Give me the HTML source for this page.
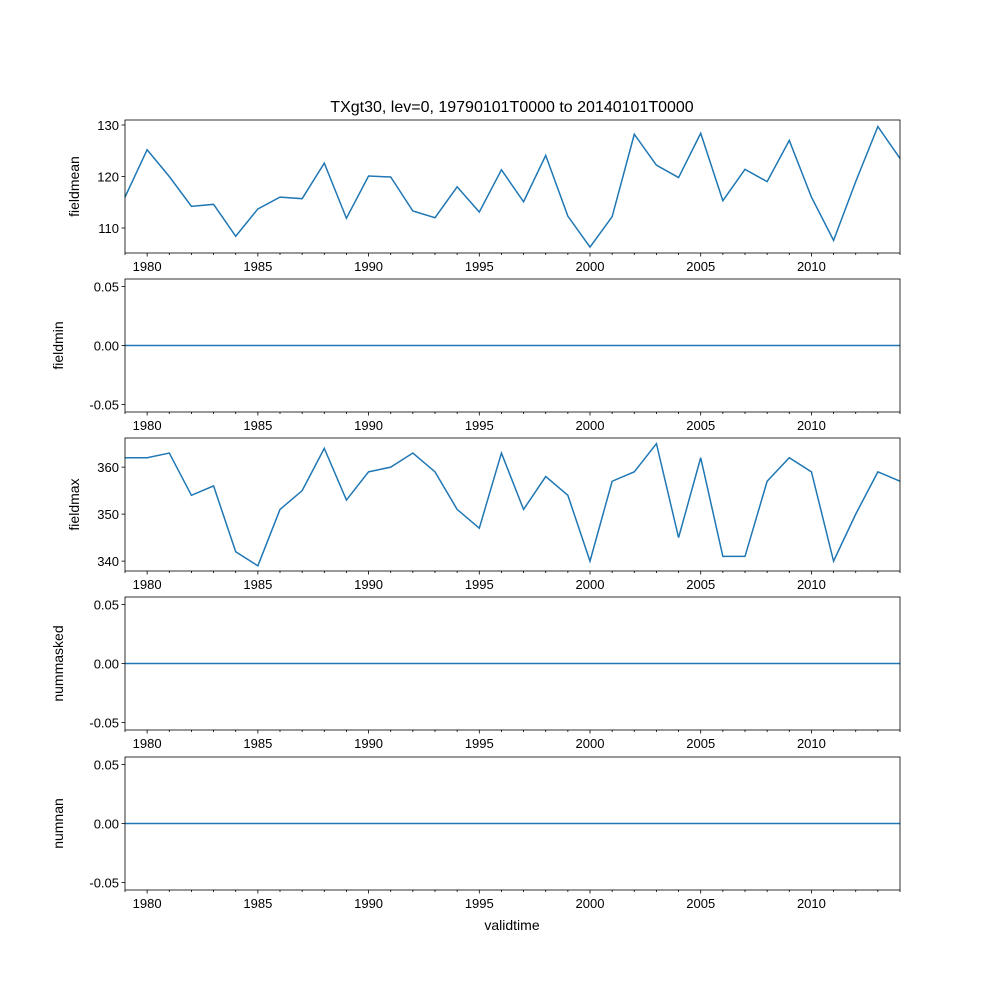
<!DOCTYPE html>
<html><head><meta charset="utf-8"><style>
body{margin:0;background:#fff}
svg{font-family:"Liberation Sans","DejaVu Sans",sans-serif}
</style></head><body>
<svg id="chart" width="1000" height="1000" viewBox="0 0 1000 1000">
<rect width="1000" height="1000" fill="#fff"/>
<text x="512" y="112" font-size="16" text-anchor="middle">TXgt30, lev=0, 19790101T0000 to 20140101T0000</text>
<text x="512" y="930" font-size="14" text-anchor="middle">validtime</text>
</svg>
<script>
const years = [];
for (let y = 1979; y <= 2014; y++) years.push(y);
const fieldmean = [116,125.2,120,114.2,114.6,108.4,113.7,116,115.7,122.6,111.9,120.1,119.9,113.3,112,118,113.1,121.3,115.1,124.1,112.3,106.3,112.2,128.2,122.2,119.8,128.4,115.3,121.4,119,127,116,107.6,119,129.7,123.5];
const fieldmax = [362,362,363,354,356,342,339,351,355,364,353,359,360,363,359,351,347,363,351,358,354,340,357,359,365,345,362,341,341,357,362,359,340,350,359,357];
const zeros = years.map(() => 0);
const xTickLabels = [1980,1985,1990,1995,2000,2005,2010];
const panels = [
  {name:'fieldmean', top:120, bottom:253, min:105.15, max:130.97, ticks:[110,120,130], fmt:v=>String(v), data:fieldmean},
  {name:'fieldmin', top:279, bottom:412, min:-0.0564, max:0.0564, ticks:[-0.05,0,0.05], fmt:v=>v.toFixed(2), data:zeros},
  {name:'fieldmax', top:438, bottom:571, min:337.9, max:366.2, ticks:[340,350,360], fmt:v=>String(v), data:fieldmax},
  {name:'nummasked', top:597, bottom:730, min:-0.0564, max:0.0564, ticks:[-0.05,0,0.05], fmt:v=>v.toFixed(2), data:zeros},
  {name:'numnan', top:757, bottom:890, min:-0.0564, max:0.0564, ticks:[-0.05,0,0.05], fmt:v=>v.toFixed(2), data:zeros}
];
const L = 125, R = 900;
const xs = y => L + (y - 1979) / (2014 - 1979) * (R - L);
const svg = document.getElementById('chart');
const NS = 'http://www.w3.org/2000/svg';
function mk(tag, attrs, parent) {
  const e = document.createElementNS(NS, tag);
  for (const k in attrs) e.setAttribute(k, attrs[k]);
  (parent || svg).appendChild(e);
  return e;
}
panels.forEach(p => {
  const g = mk('g', {});
  
  
  const ys = v => p.bottom - (v - p.min) / (p.max - p.min) * (p.bottom - p.top);
  const pts = p.data.map((v, i) => xs(years[i]).toFixed(2) + ',' + ys(v).toFixed(2)).join(' ');
  const line = mk('polyline', {points: pts, fill: 'none', stroke: '#1f77b4', 'stroke-width': 1.5}, g);
  
  
  const frame = mk('rect', {x: L, y: p.top, width: R - L, height: p.bottom - p.top, fill: 'none', stroke: '#000', 'stroke-width': 0.8}, g);
  
  
  years.forEach(y => {
    const major = xTickLabels.includes(y);
    mk('line', {x1: xs(y), x2: xs(y), y1: p.bottom, y2: p.bottom + (major ? 3.5 : 2), stroke: '#000', 'stroke-width': 0.8}, g);
  });
  xTickLabels.forEach(y => {
    const t = mk('text', {x: xs(y), y: p.bottom + 18, 'font-size': 13, 'text-anchor': 'middle'}, g);
    t.textContent = y;
    
    
  });
  p.ticks.forEach(v => {
    const y = ys(v);
    mk('line', {x1: L - 3.5, x2: L, y1: y, y2: y, stroke: '#000', 'stroke-width': 0.8}, g);
    const t = mk('text', {x: L - 6, y: y + 5, 'font-size': 13, 'text-anchor': 'end'}, g);
    t.textContent = p.fmt(v);
    
    
  });
  const wide = p.ticks[0] < 1 && p.ticks[0] > -1;
  const lx = wide ? 63 : 79;
  const cy = (p.top + p.bottom) / 2;
  const yl = mk('text', {x: lx, y: cy, 'font-size': 14, 'text-anchor': 'middle', transform: 'rotate(-90 ' + lx + ' ' + cy + ')'}, g);
  yl.textContent = p.name;
  
  
});
</script>
</body></html>
